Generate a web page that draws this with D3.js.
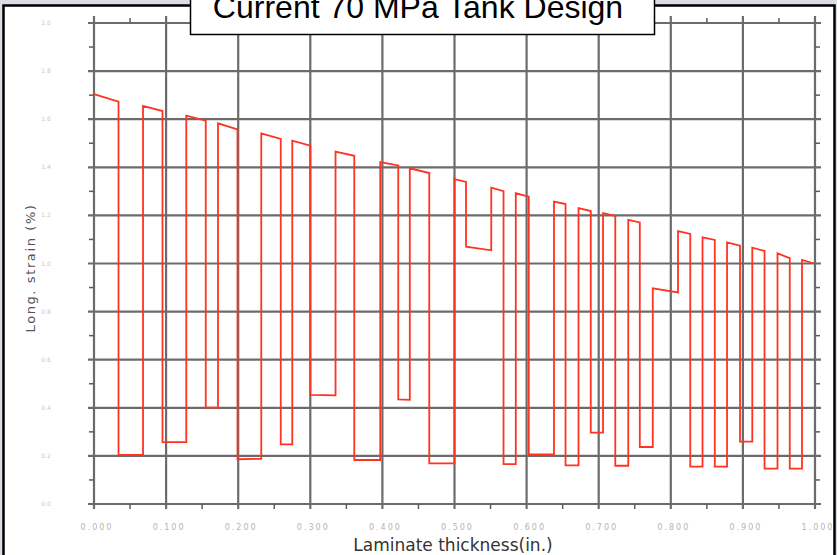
<!DOCTYPE html>
<html>
<head>
<meta charset="utf-8">
<script src="https://cdn.jsdelivr.net/npm/d3@7"></script>
<style>
  html, body { margin: 0; padding: 0; background: #dcdde4; }
  svg { display: block; }
</style>
</head>
<body>
<svg id="chart" width="837" height="555"></svg>
<script>
// laminate thickness (in.) at each step edge of the strain trace
const xEdges = [0.000, 0.034, 0.068, 0.095, 0.128, 0.155, 0.172, 0.199, 0.232, 0.259,
  0.275, 0.300, 0.335, 0.361, 0.397, 0.422, 0.438, 0.465, 0.500, 0.516,
  0.551, 0.568, 0.585, 0.603, 0.638, 0.654, 0.672, 0.689, 0.706, 0.723,
  0.741, 0.757, 0.775, 0.810, 0.827, 0.844, 0.861, 0.878, 0.896, 0.913,
  0.930, 0.948, 0.965, 0.982, 0.998]

// strain (%) at the start and the end of each ply between two edges
const strainStart = [1.704, 0.204, 1.655, 0.257, 1.615, 0.401, 1.583, 0.186, 1.541, 0.248,
  1.511, 0.454, 1.465, 0.183, 1.422, 0.435, 1.396, 0.169, 1.351, 1.070,
  1.315, 0.166, 1.292, 0.206, 1.257, 0.161, 1.230, 0.297, 1.209, 0.159,
  1.181, 0.237, 0.897, 1.135, 0.155, 1.109, 0.155, 1.088, 0.259, 1.066,
  0.147, 1.042, 0.147, 1.015]
const strainEnd = [1.673, 0.204, 1.634, 0.257, 1.594, 0.401, 1.558, 0.188, 1.518, 0.248,
  1.490, 0.452, 1.448, 0.183, 1.408, 0.433, 1.376, 0.169, 1.339, 1.055,
  1.301, 0.166, 1.278, 0.206, 1.247, 0.161, 1.218, 0.297, 1.198, 0.159,
  1.171, 0.237, 0.880, 1.123, 0.155, 1.098, 0.155, 1.074, 0.259, 1.052,
  0.147, 1.022, 0.147, 1.001]

const xTicks = d3.range(0, 1.0001, 0.1)
const yTicks = d3.range(0, 2.0001, 0.2)

const titleText = 'Current 70 MPa Tank Design'
const xTitle = 'Laminate thickness(in.)'
const yTitle = 'Long. strain (%)'

const svg = d3.select('#chart')

// white panel with black frame
svg.append('rect')
  .attr('x', 3.5).attr('y', 5.5)
  .attr('width', 831).attr('height', 560)
  .attr('fill', '#fff')
  .attr('stroke', '#000')
  .attr('stroke-width', 2.5)

const xScale = d3.scaleLinear().domain([0, 1]).range([94, 815])
const yScale = d3.scaleLinear().domain([0, 2]).range([504, 23])

const g = svg.append('g').attr('id', 'graph-g')

// major grid lines, slightly overhanging the plot box
const grid = g.append('g').attr('stroke', '#5c5c5c').attr('stroke-width', 2.2).attr('opacity', 0.9)
grid.selectAll('.vgrid')
  .data(xTicks)
  .join('line')
  .attr('class', 'vgrid')
  .attr('x1', d => xScale(d)).attr('x2', d => xScale(d))
  .attr('y1', yScale.range()[1] - 7).attr('y2', yScale.range()[0] + 5)
grid.selectAll('.hgrid')
  .data(yTicks)
  .join('line')
  .attr('class', 'hgrid')
  .attr('y1', d => yScale(d)).attr('y2', d => yScale(d))
  .attr('x1', xScale.range()[0] - 6).attr('x2', xScale.range()[1] + 6)

// minor ticks on all four sides
const minorX = xTicks.slice(0, -1).map(d => d + 0.05)
const minorY = yTicks.slice(0, -1).map(d => d + 0.1)
const minor = g.append('g').attr('stroke', '#5c5c5c').attr('stroke-width', 1.5)
minor.selectAll('.mt')
  .data(minorX)
  .join('line')
  .attr('x1', d => xScale(d)).attr('x2', d => xScale(d))
  .attr('y1', yScale.range()[1] - 5).attr('y2', yScale.range()[1])
minor.selectAll('.mb')
  .data(minorX)
  .join('line')
  .attr('x1', d => xScale(d)).attr('x2', d => xScale(d))
  .attr('y1', yScale.range()[0]).attr('y2', yScale.range()[0] + 5)
minor.selectAll('.ml')
  .data(minorY)
  .join('line')
  .attr('y1', d => yScale(d)).attr('y2', d => yScale(d))
  .attr('x1', xScale.range()[0] - 5).attr('x2', xScale.range()[0])
minor.selectAll('.mr')
  .data(minorY)
  .join('line')
  .attr('y1', d => yScale(d)).attr('y2', d => yScale(d))
  .attr('x1', xScale.range()[1]).attr('x2', xScale.range()[1] + 5)

// faint tick labels
g.append('g')
  .selectAll('text')
  .data(xTicks)
  .join('text')
  .attr('x', d => xScale(d) + 3)
  .attr('y', 530)
  .attr('text-anchor', 'middle')
  .attr('font-family', 'DejaVu Sans')
  .attr('font-size', 8)
  .attr('letter-spacing', 2)
  .attr('fill', '#b4b4b4')
  .text(d3.format('.3f'))

g.append('g')
  .selectAll('text')
  .data(yTicks)
  .join('text')
  .attr('x', 46)
  .attr('y', d => yScale(d) + 2)
  .attr('text-anchor', 'middle')
  .attr('font-family', 'DejaVu Sans')
  .attr('font-size', 6)
  .attr('fill', '#c8c8c8')
  .text(d3.format('.1f'))

// strain trace: each ply is a sloped segment, joined by vertical jumps
const points = []
strainStart.forEach((s, i) => {
  points.push([xEdges[i], s])
  points.push([xEdges[i + 1], strainEnd[i]])
})

const line = d3.line()
  .x(d => xScale(d[0]))
  .y(d => yScale(d[1]))

g.append('path')
  .datum(points)
  .attr('d', line)
  .attr('fill', 'none')
  .attr('stroke', '#ff3322')
  .attr('stroke-width', 1.8)
  .attr('stroke-linejoin', 'miter')

// axis titles
svg.append('text')
  .attr('x', 453)
  .attr('y', 551)
  .attr('text-anchor', 'middle')
  .attr('font-family', 'DejaVu Sans')
  .attr('font-size', 17)
  .attr('fill', '#333')
  .text(xTitle)

svg.append('text')
  .attr('transform', 'translate(35, 268) rotate(-90)')
  .attr('text-anchor', 'middle')
  .attr('font-family', 'DejaVu Sans')
  .attr('font-size', 13)
  .attr('letter-spacing', 1.6)
  .attr('fill', '#555')
  .text(yTitle)

// title box, cut off by the top edge as in the slide
svg.append('rect')
  .attr('x', 190.5).attr('y', -10)
  .attr('width', 464).attr('height', 44.5)
  .attr('fill', '#fff')
  .attr('stroke', '#000')
  .attr('stroke-width', 1.5)

svg.append('text')
  .attr('x', 418)
  .attr('y', 18)
  .attr('text-anchor', 'middle')
  .attr('font-family', 'Liberation Sans, Arial, sans-serif')
  .attr('font-size', 32)
  .attr('fill', '#000')
  .text(titleText)
</script>
</body>
</html>
